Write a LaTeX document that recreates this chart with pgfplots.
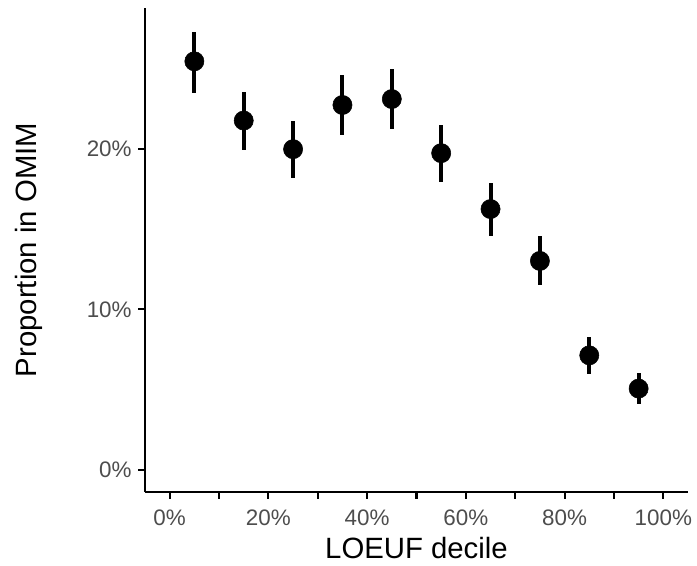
\documentclass[border=0pt]{standalone}
\usepackage{pgfplots}
\pgfplotsset{compat=1.18}
\usepackage{fontspec}
\setmainfont{Liberation Sans}
\definecolor{tickgray}{HTML}{4D4D4D}
\begin{document}
\begin{tikzpicture}
\begin{axis}[
  name=ax,
  scale only axis,
  width=407.25pt, height=363pt,
  xmin=-5, xmax=105,
  ymin=-1.37, ymax=28.77,
  axis lines=left,
  axis line style={-, line width=1.6pt, black},
  xtick={0,20,40,60,80,100},
  xticklabels={0\%,20\%,40\%,60\%,80\%,100\%},
  minor xtick={10,30,50,70,90},
  ytick={0,10,20},
  yticklabels={0\%,10\%,20\%},
  tick align=outside,
  major tick length=5pt,
  minor tick length=5pt,
  tick style={line width=1.6pt, black},
  every tick label/.append style={text=tickgray, font=\fontsize{16.8pt}{19pt}\selectfont},
  xticklabel style={anchor=base, yshift=-20pt},
  yticklabel style={xshift=-1.5pt},
  xlabel={LOEUF decile},
  ylabel={Proportion in OMIM},
  label style={font=\fontsize{22pt}{26pt}\selectfont, text=black},
  xlabel style={at={(axis description cs:0.5,0)}, anchor=base, yshift=-49.5pt},
  ylabel style={at={([xshift=-81pt]axis description cs:0,0.5)}, anchor=base, rotate=0},
  clip=false,
]
\addplot[only marks, mark=*, mark size=7.2pt, black,
  error bars/.cd, y dir=both, y explicit, error mark=none,
  error bar style={line width=3pt, black}]
  table[x=x, y=y, y error plus=ep, y error minus=em] {
x y ep em
5 25.45 1.85 1.95
15 21.76 1.80 1.86
25 19.98 1.74 1.80
35 22.73 1.87 1.86
45 23.10 1.85 1.88
55 19.73 1.76 1.80
65 16.25 1.62 1.70
75 13.02 1.53 1.49
85 7.14 1.14 1.18
95 5.07 1.00 0.97
};
\end{axis}
\pgfresetboundingbox
\useasboundingbox ([xshift=-108.75pt,yshift=-54.75pt]ax.south west) rectangle ([xshift=6.75pt,yshift=6pt]ax.north east);
\end{tikzpicture}
\end{document}
